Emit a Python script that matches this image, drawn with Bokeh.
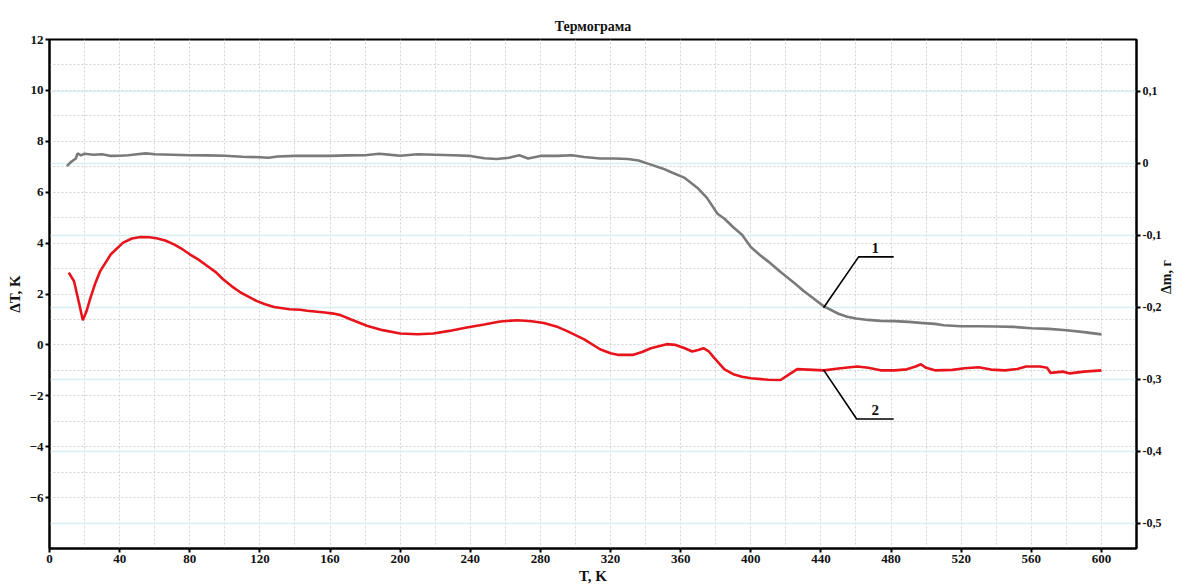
import math
from bokeh.plotting import figure
from bokeh.models import Range1d, LinearAxis, FixedTicker, Grid, ColumnDataSource
from bokeh.core.properties import value
from bokeh.embed import file_html
from bokeh.resources import INLINE

# ---- data ----
# curve 1: mass change, right axis (Δm, г)
t_mass = [10, 12, 14, 15, 16, 18, 20, 25, 30, 35, 40, 45, 50, 55, 60, 70, 80, 90, 100,
          110, 120, 125, 130, 140, 150, 160, 170, 180, 188, 195, 200, 210, 220, 230, 240,
          248, 255, 262, 268, 273, 280, 290, 298, 305, 314, 322, 330, 336, 343, 350, 355,
          362, 370, 375, 381, 385, 390, 395, 400, 405, 410, 417, 425, 430, 436, 441.7, 450,
          455, 460, 467, 474, 482, 490, 497, 505, 510, 520, 530, 540, 550, 560, 570, 580,
          590, 600]
dm = [-0.0039, 0.0014, 0.0049, 0.0067, 0.0138, 0.0110, 0.0134, 0.0120, 0.0127, 0.0103,
      0.0106, 0.0113, 0.0127, 0.0138, 0.0127, 0.0120, 0.0113, 0.0110, 0.0106,
      0.0092, 0.0085, 0.0078, 0.0095, 0.0103, 0.0103, 0.0103, 0.0110, 0.0113, 0.0134, 0.0117,
      0.0106, 0.0127, 0.0120, 0.0113, 0.0103, 0.0070, 0.0060, 0.0078, 0.0113, 0.0067,
      0.0103, 0.0103, 0.0113, 0.0088, 0.0067, 0.0067, 0.0060, 0.0039, -0.0018, -0.0074,
      -0.0127, -0.0198, -0.0350, -0.0480, -0.0700, -0.0770, -0.0887, -0.0993, -0.1163,
      -0.1270, -0.1365, -0.1509, -0.1665, -0.1771, -0.1880, -0.1987, -0.2089, -0.2130,
      -0.2156, -0.2175, -0.2188, -0.2192, -0.2202, -0.2216, -0.2230, -0.2248, -0.2262,
      -0.2262, -0.2266, -0.2272, -0.2291, -0.2300, -0.2319, -0.2345, -0.2376]

# curve 2: differential temperature, left axis (ΔT, K)
t_dta = [11, 14, 17, 19, 21, 23.4, 26, 29, 35, 42, 47, 52, 57, 61, 66, 71, 76, 80, 85, 90,
         95, 99, 104, 109, 114, 118, 123, 128, 137, 143, 147, 157, 162, 166, 172, 181, 190,
         200, 210, 219, 228, 238, 248, 257, 267, 275, 282, 290, 295, 305, 314, 320, 324,
         333, 338, 343, 352, 357, 362, 366.6, 370, 373, 376, 379, 385, 390, 395, 400, 410,
         417, 421, 426.5, 441.7, 450, 460.7, 467, 474, 482, 489, 494, 497, 500, 505, 515,
         522, 530, 537, 545, 552, 557, 565, 569, 571, 578, 582, 590, 600]
dT = [2.84, 2.5, 1.6, 0.97, 1.3, 1.86, 2.4, 2.91, 3.56, 4.02, 4.18, 4.24, 4.23, 4.19, 4.1,
      3.95, 3.75, 3.56, 3.35, 3.10, 2.85, 2.58, 2.3, 2.06, 1.88, 1.73, 1.6, 1.49, 1.40, 1.38,
      1.34, 1.27, 1.23, 1.17, 1.0, 0.75, 0.58, 0.45, 0.42, 0.45, 0.55, 0.68, 0.8, 0.92, 0.97,
      0.93, 0.86, 0.7, 0.55, 0.22, -0.17, -0.33, -0.39, -0.39, -0.28, -0.13, 0.03, 0.0,
      -0.12, -0.26, -0.2, -0.13, -0.25, -0.5, -0.96, -1.15, -1.25, -1.31, -1.37, -1.38,
      -1.2, -0.95, -1.0, -0.93, -0.85, -0.9, -1.0, -1.0, -0.96, -0.85, -0.76, -0.9, -1.0,
      -0.98, -0.92, -0.88, -0.97, -1.0, -0.95, -0.85, -0.85, -0.9, -1.1, -1.05, -1.12,
      -1.05, -1.0]

# ticks
x_ticks = list(range(0, 601, 40))
x_grid = list(range(20, 620, 20))
left_ticks = [-6, -4, -2, 0, 2, 4, 6, 8, 10, 12]
left_grid = list(range(-7, 12))
right_ticks = [0.1, 0, -0.1, -0.2, -0.3, -0.4, -0.5]
right_tick_labels = ["0,1", "0", "-0,1", "-0,2", "-0,3", "-0,4", "-0,5"]

# curve labels with leader lines (x in K, y in ΔT units)
lead1_x = [441.5, 461.5, 481.5]
lead1_y = [1.46, 3.46, 3.46]
lead2_x = [441.5, 460.4, 481.5]
lead2_y = [-0.98, -2.91, -2.91]
label_x = [471, 471]
label_y = [3.62, -2.76]
label_text = ["1", "2"]

SERIF = "Liberation Serif"

p = figure(width=1184, height=587, output_backend="svg", toolbar_location=None,
           x_range=Range1d(0, 620), y_range=Range1d(-8, 12),
           min_border_left=49, min_border_right=48, min_border_top=39, min_border_bottom=39,
           title="Термограма")
p.extra_y_ranges = {"dm": Range1d(-0.535, 0.172)}

p.title.align = "center"
p.title.text_font = SERIF
p.title.text_font_style = "bold"
p.title.text_font_size = "14px"
p.title.text_color = "#111111"
p.title.standoff = 12

p.outline_line_color = "black"
p.outline_line_width = 2
p.background_fill_color = "white"
p.border_fill_color = "white"

# grids
p.xgrid.ticker = FixedTicker(ticks=x_grid)
p.ygrid.ticker = FixedTicker(ticks=left_grid)
for g in (p.xgrid[0], p.ygrid[0]):
    g.grid_line_color = "#d2d2d2"
    g.grid_line_dash = "2 2"
    g.grid_line_width = 1
rgrid = Grid(dimension=1, ticker=FixedTicker(ticks=right_ticks), y_range_name="dm",
             grid_line_color="#d8f0f0", grid_line_width=1.5)
p.add_layout(rgrid)

def style_axis(ax):
    ax.axis_line_color = "black"
    ax.axis_line_width = 2
    ax.major_tick_line_color = "black"
    ax.major_tick_line_width = 2
    ax.major_tick_out = 4
    ax.major_tick_in = 0
    ax.minor_tick_line_color = None
    ax.major_label_text_font = SERIF
    ax.major_label_text_font_style = "bold"
    ax.major_label_text_font_size = "13px"
    ax.major_label_text_color = "#111111"
    ax.major_label_standoff = 2
    ax.axis_label_text_font = SERIF
    ax.axis_label_text_font_style = "bold"
    ax.axis_label_text_font_size = "15px"
    ax.axis_label_text_color = "#111111"
    ax.axis_label_standoff = 4

xa = p.xaxis[0]
xa.ticker = FixedTicker(ticks=x_ticks)
xa.axis_label = "T, K"
style_axis(xa)
xa.axis_label_standoff = 2

ya = p.yaxis[0]
ya.ticker = FixedTicker(ticks=left_ticks)
ya.axis_label = "ΔT, K"
style_axis(ya)

ra = LinearAxis(y_range_name="dm", ticker=FixedTicker(ticks=right_ticks),
                axis_label="Δm, г")
ra.major_label_overrides = {t: s for t, s in zip(right_ticks, right_tick_labels)}
style_axis(ra)
ra.major_label_text_font_size = "12px"
ra.axis_label_text_font_size = "14px"
ra.axis_label_standoff = 2
ra.axis_label_orientation = math.pi / 2
p.add_layout(ra, "right")

# curves
p.line(t_mass, dm, y_range_name="dm", line_color="#7a7a7a", line_width=2.6)
p.line(t_dta, dT, line_color="#e8141c", line_width=2.6)

# leader lines and labels
p.line(lead1_x, lead1_y, line_color="black", line_width=1.6)
p.line(lead2_x, lead2_y, line_color="black", line_width=1.6)
src = ColumnDataSource(dict(x=label_x, y=label_y, t=label_text))
p.text(x="x", y="y", text="t", source=src, text_font=value(SERIF),
       text_font_style="bold", text_font_size="15px", text_align="center",
       text_baseline="bottom", text_color="#111111")

open("out.html", "w").write(file_html(p, INLINE))
